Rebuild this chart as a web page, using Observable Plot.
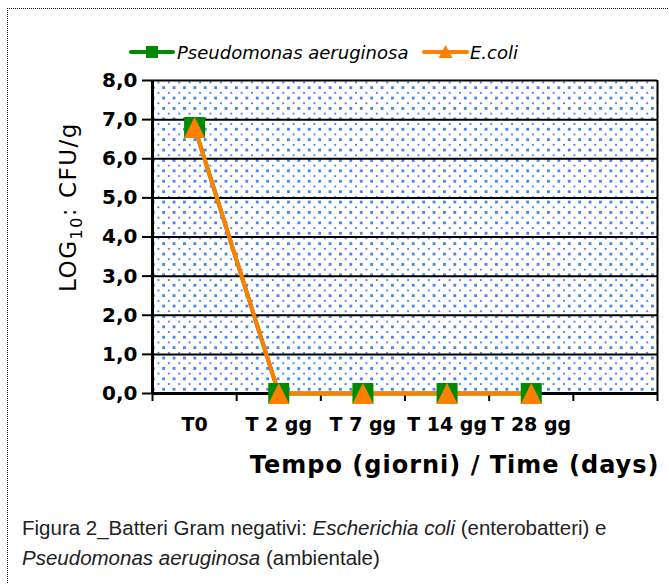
<!DOCTYPE html>
<html><head><meta charset="utf-8">
<script src="https://cdn.jsdelivr.net/npm/d3@7"></script>
<script src="https://cdn.jsdelivr.net/npm/@observablehq/plot@0.6"></script>
<style>
body{margin:0;background:#fff;}
#wrap{position:relative;width:669px;height:584px;overflow:hidden;font-family:"DejaVu Sans",sans-serif;background:#fff;}
#border{position:absolute;left:7px;top:8px;width:700px;height:700px;border-top:1px dotted #111;border-left:1px dotted #111;}
#chart{position:absolute;left:0;top:0;}
#legend{position:absolute;left:0;top:0;}
#caption{position:absolute;left:22px;top:513px;font-family:"Liberation Sans",Arial,sans-serif;font-size:20.5px;line-height:30px;color:#222;white-space:nowrap;}
</style></head><body>
<div id="wrap">
<div id="border"></div>
<div id="chart"></div>
<svg id="legend" width="669" height="80"></svg>
<div id="caption">Figura 2_Batteri Gram negativi: <i>Escherichia coli</i> (enterobatteri) e<br><i>Pseudomonas aeruginosa</i> (ambientale)</div>
</div>
<script>
// ---- data ----
const categories = ["T0", "T 2 gg", "T 7 gg", "T 14 gg", "T 28 gg"];
const pseudomonas = [6.8, 0, 0, 0, 0];
const ecoli = [6.8, 0, 0, 0, 0];
const yTicks = [0, 1, 2, 3, 4, 5, 6, 7, 8];
const seriesNames = ["Pseudomonas aeruginosa", "E.coli"];
const seriesColors = ["#008a00", "#ff8000"];
const xLabel = "Tempo (giorni) / Time (days)";
const yLabel = "LOG10: CFU/g";

const rowsP = categories.map((c, i) => ({i, cat: c, value: pseudomonas[i], series: seriesNames[0]}));
const rowsE = categories.map((c, i) => ({i, cat: c, value: ecoli[i], series: seriesNames[1]}));
const rows = rowsP.concat(rowsE);
const slots = categories.length + 1; // one empty slot at the right
const boundaries = d3.range(slots + 1).map(k => k - 0.5);

const squareSym = {draw(ctx, size) { const r = Math.sqrt(size / Math.PI); ctx.rect(-r, -r, 2 * r, 2 * r); }};
const triSym = {draw(ctx, size) { const r = Math.sqrt(size / Math.PI); ctx.moveTo(0, -r); ctx.lineTo(r, r); ctx.lineTo(-r, r); ctx.closePath(); }};

const chart = Plot.plot({
  width: 669,
  height: 484,
  marginLeft: 152,
  marginRight: 12,
  marginTop: 80,
  marginBottom: 91,
  style: {background: "transparent", color: "#000", fontFamily: "DejaVu Sans, sans-serif"},
  x: {type: "linear", domain: [-0.5, slots - 0.5]},
  y: {domain: [0, 8]},
  color: {domain: seriesNames, range: seriesColors},
  marks: [
    Plot.frame({fill: "url(#dotpat)", stroke: null}),
    Plot.ruleY(yTicks.slice(1), {stroke: "#000", strokeWidth: 2}),
    Plot.axisY(yTicks, {tickSize: 10, tickPadding: 5, strokeWidth: 2, fontSize: 20, fontWeight: "bold",
      tickFormat: d => d3.format(".1f")(d).replace(".", ","), label: null}),
    Plot.axisX(boundaries, {tickSize: 8, strokeWidth: 2, tickFormat: () => "", label: null}),
    Plot.axisX(categories.map((_, i) => i), {tickSize: 0, tickPadding: 24, fontSize: 19, fontWeight: "bold",
      tickFormat: i => categories[i], label: null}),
    Plot.ruleX([boundaries[0]], {stroke: "#000", strokeWidth: 3}),
    Plot.ruleX([boundaries[boundaries.length - 1]], {stroke: "#000", strokeWidth: 2}),
    Plot.ruleY([0], {stroke: "#000", strokeWidth: 3}),
    Plot.line(rows, {x: "i", y: "value", z: "series", stroke: "series", strokeWidth: 4}),
    Plot.dot(rowsP, {x: "i", y: "value", symbol: squareSym, r: 10.5, fill: seriesColors[0], stroke: null}),
    Plot.dot(rowsE, {x: "i", y: "value", symbol: triSym, r: 10.5, fill: seriesColors[1], stroke: null}),
    Plot.text([xLabel], {frameAnchor: "bottom-right", text: d => d, textAnchor: "end", lineAnchor: "middle",
      dx: 2, dy: 72, fontSize: 24, fontWeight: "bold", fill: "#000"}),
    Plot.text([yLabel], {frameAnchor: "left", text: d => d, textAnchor: "middle", lineAnchor: "middle",
      rotate: -90, dx: -84, dy: -30, fontSize: 23, fill: "#000"})
  ]
});
document.getElementById("chart").appendChild(chart);

const svg = d3.select(chart.tagName.toLowerCase() === "svg" ? chart : chart.querySelector("svg"));
const pat = svg.insert("defs", ":first-child").append("pattern")
  .attr("id", "dotpat").attr("patternUnits", "userSpaceOnUse")
  .attr("x", 157).attr("y", 81).attr("width", 10.4).attr("height", 10.4);
pat.append("rect").attr("width", 10.4).attr("height", 10.4).attr("fill", "#fff");
pat.append("rect").attr("x", 0).attr("y", 0).attr("width", 2).attr("height", 2).attr("fill", "#4a86f0").attr("shape-rendering", "crispEdges");
pat.append("rect").attr("x", 5.2).attr("y", 5.2).attr("width", 2).attr("height", 2).attr("fill", "#4a86f0").attr("shape-rendering", "crispEdges");

svg.selectAll("text").each(function() {
  const t = d3.select(this);
  if (t.text() === xLabel) t.style("letter-spacing", "1px");
  if (t.text() === yLabel) {
    t.style("letter-spacing", "1.5px");
    t.text(null);
    t.append("tspan").text("LOG");
    t.append("tspan").attr("dy", 6).attr("font-size", 16).text("10");
    t.append("tspan").attr("dy", -6).text(": CFU/g");
  }
});

// legend
const lg = d3.select("#legend");
const items = [
  {x1: 131, x2: 173, tx: 177, sym: "square"},
  {x1: 424, x2: 467, tx: 470, sym: "tri"}
];
items.forEach((it, k) => {
  const cx = (it.x1 + it.x2) / 2, cy = 52;
  lg.append("line").attr("x1", it.x1).attr("x2", it.x2).attr("y1", cy).attr("y2", cy)
    .attr("stroke", seriesColors[k]).attr("stroke-width", 4).attr("stroke-linecap", "round");
  if (it.sym === "square") lg.append("rect").attr("x", cx - 6).attr("y", cy - 6).attr("width", 12).attr("height", 12).attr("fill", seriesColors[k]);
  else lg.append("path").attr("d", `M${cx},${cy - 7}L${cx + 7},${cy + 6}L${cx - 7},${cy + 6}Z`).attr("fill", seriesColors[k]);
  lg.append("text").attr("x", it.tx).attr("y", 59).attr("font-size", 18).attr("font-style", "italic")
    .attr("font-family", "DejaVu Sans, sans-serif").attr("fill", "#000").text(seriesNames[k]);
});
</script>
</body></html>
